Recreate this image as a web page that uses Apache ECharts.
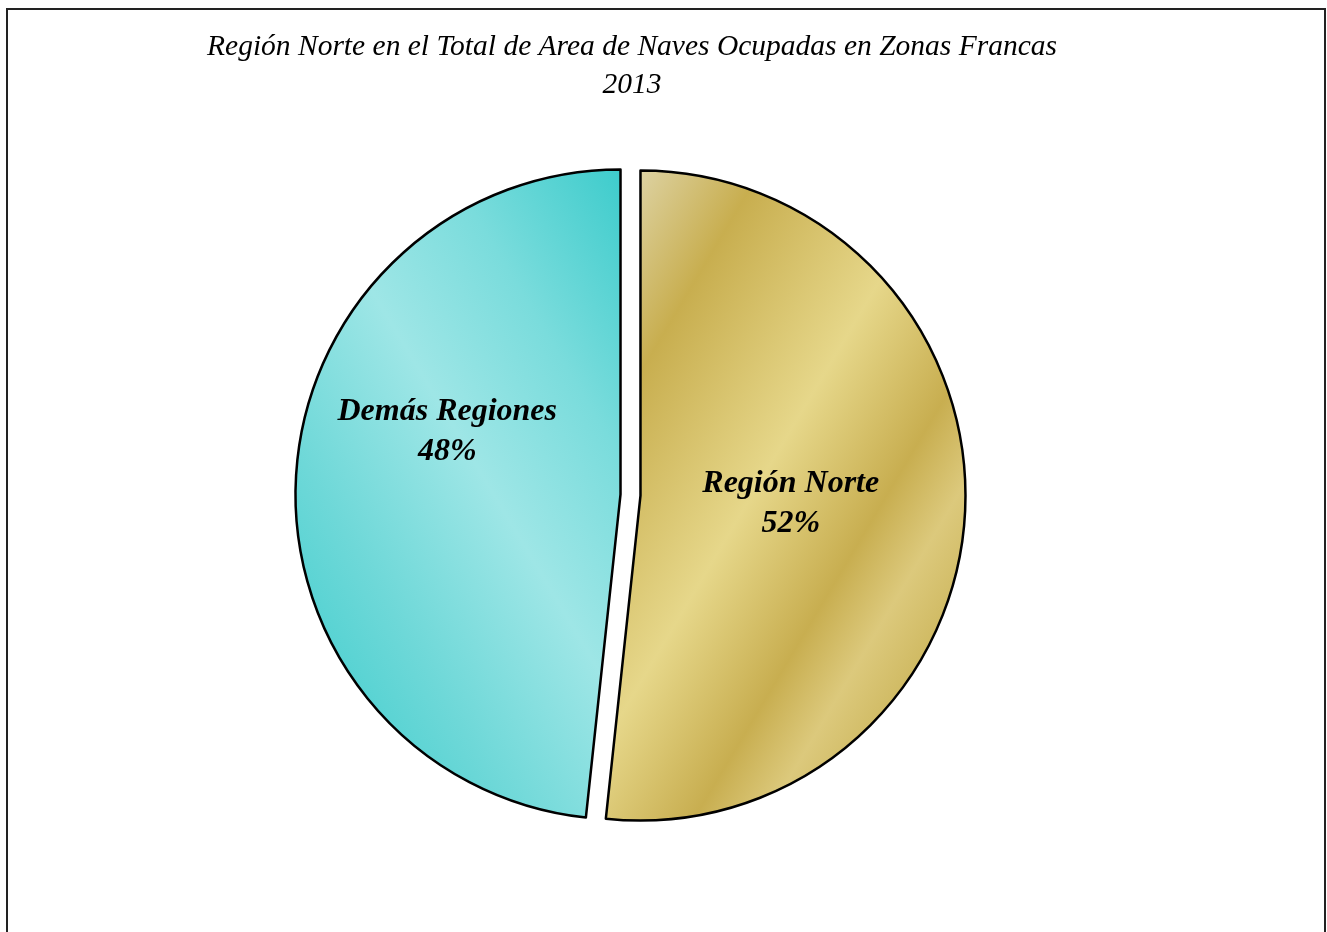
<!DOCTYPE html>
<html>
<head>
<meta charset="utf-8">
<script src="https://cdn.jsdelivr.net/npm/echarts@6/dist/echarts.min.js"></script>
<style>html,body{margin:0;padding:0;background:#fff}#c{width:1327px;height:932px}</style>
</head>
<body>
<div id="c"></div>
<script>
const titleLines = ['Región Norte en el Total de Area de Naves Ocupadas en Zonas Francas', '2013'];
const categories = ['Región Norte', 'Demás Regiones'];
const values = [51.7, 48.3];
const percentLabels = ['52%', '48%'];

const goldFill = {
  type: 'linear', x: 630, y: 170, x2: 1154, y2: 482, global: true,
  colorStops: [
    {offset: 0, color: '#ddd2a2'},
    {offset: 0.17, color: '#c8ae4f'},
    {offset: 0.43, color: '#e6d78a'},
    {offset: 0.62, color: '#c8ae50'},
    {offset: 0.72, color: '#dcc97c'},
    {offset: 0.85, color: '#cab357'},
    {offset: 1, color: '#d6c070'}
  ]
};
const tealFill = {
  type: 'linear', x: 352, y: 662, x2: 773, y2: 410, global: true,
  colorStops: [
    {offset: 0, color: '#58d3d3'},
    {offset: 0.14, color: '#6ed8d8'},
    {offset: 0.44, color: '#9ee6e6'},
    {offset: 0.7, color: '#7adcdc'},
    {offset: 1, color: '#3ecccc'}
  ]
};
const fills = [goldFill, tealFill];
const labelShift = [[-15, -1], [-8, -54]];

const chart = echarts.init(document.getElementById('c'));
chart.setOption({
  animation: false,
  title: {
    text: titleLines.join('\n'),
    left: 627, top: 23, textAlign: 'center',
    textStyle: {fontFamily: 'Liberation Serif', fontStyle: 'italic', fontWeight: 'normal', fontSize: 29.5, lineHeight: 38, color: '#000'}
  },
  graphic: [{
    type: 'rect', shape: {x: 7, y: 9, width: 1318, height: 940},
    style: {fill: 'none', stroke: '#222', lineWidth: 2}
  }],
  series: [{
    type: 'pie',
    center: [630.5, 495],
    radius: [0, 325],
    startAngle: 90,
    clockwise: true,
    selectedMode: 'multiple',
    selectedOffset: 10,
    avoidLabelOverlap: false,
    emphasis: {disabled: true},
    itemStyle: {borderColor: '#000', borderWidth: 2.5},
    label: {
      show: true, position: 'inside',
      fontFamily: 'Liberation Serif', fontStyle: 'italic', fontWeight: 'bold',
      fontSize: 32, lineHeight: 40, color: '#000',
      formatter: p => p.name + '\n' + percentLabels[p.dataIndex]
    },
    labelLayout: p => ({dx: labelShift[p.dataIndex][0], dy: labelShift[p.dataIndex][1]}),
    labelLine: {show: false},
    data: categories.map((n, i) => ({
      name: n, value: values[i], selected: true,
      itemStyle: {color: fills[i]}
    }))
  }]
});
</script>
</body>
</html>
